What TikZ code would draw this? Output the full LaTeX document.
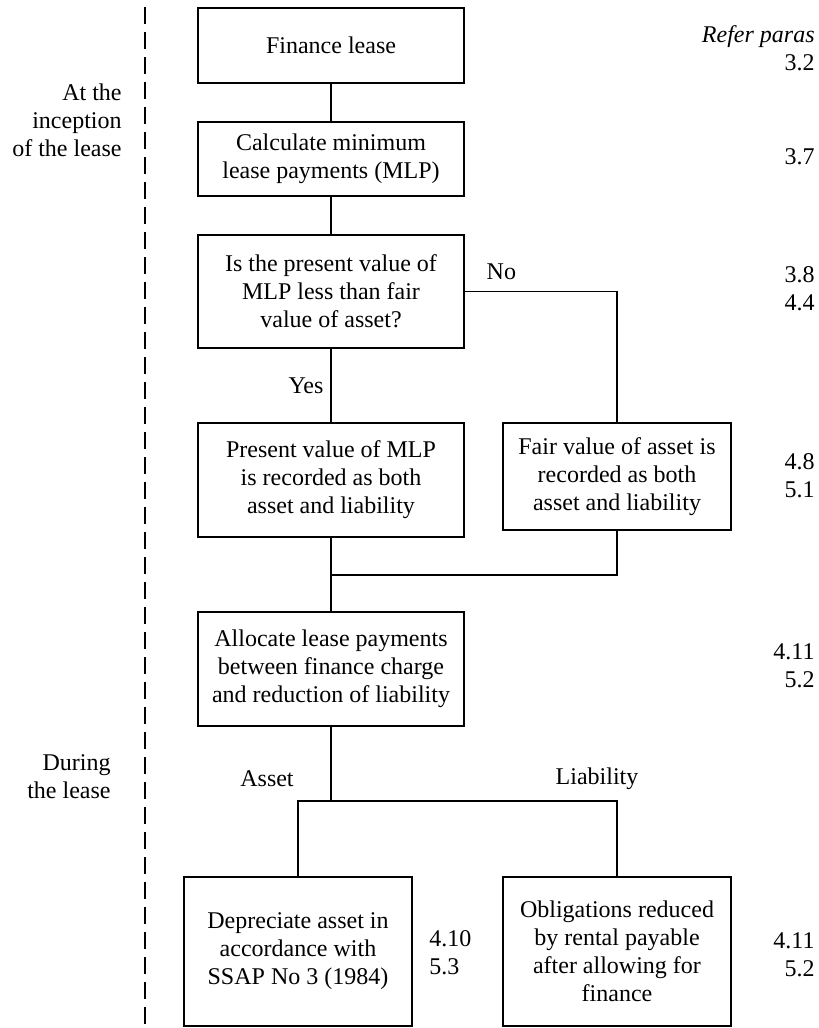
\documentclass[tikz,border=0pt]{standalone}
\usepackage{fontspec}
\setmainfont{Liberation Serif}
\usetikzlibrary{positioning,calc}

\begin{document}
\begin{tikzpicture}[x=0.5pt,y=-0.5pt,
	font=\fontsize{12}{14}\selectfont,
	mybox/.style={draw,line width=0.9pt,align=center,inner sep=0pt,minimum width=133pt},
	smallbox/.style={mybox,minimum width=114pt},
	myline/.style={line width=0.9pt},
	refnum/.style={anchor=east,align=right,inner sep=0pt},
	sidelabel/.style={anchor=east,align=right,inner sep=0pt}]
	\clip (0,0) rectangle (819,1028);
	\draw
		(331,45.5) node[mybox,minimum height=37.5pt](lease){Finance lease}
		(331,159) node[mybox,minimum height=37pt](mlp){Calculate minimum\\lease payments (MLP)}
		(331,291.5) node[mybox,minimum height=56.5pt](pvq){Is the present value of\\MLP less than fair\\value of asset?}
		(331,480) node[mybox,minimum height=57pt](pvrec){Present value of MLP\\is recorded as both\\asset and liability}
		(617,476.5) node[smallbox,minimum height=53.5pt](fair){Fair value of asset is\\recorded as both\\asset and liability}
		(331,669) node[mybox,minimum height=57pt](alloc){Allocate lease payments\\between finance charge\\and reduction of liability}
		(298,951.5) node[smallbox,minimum height=74.5pt](dep){Depreciate asset in\\accordance with\\SSAP No 3 (1984)}
		(617,951.5) node[smallbox,minimum height=74.5pt](oblig){Obligations reduced\\by rental payable\\after allowing for\\finance};
	\coordinate (join) at (331,575);
	\coordinate (split) at (331,801);
	\draw[myline](lease)--(mlp);
	\draw[myline](mlp)--(pvq);
	\draw[myline](pvq.south)--node[midway,left]{Yes}(pvrec.north);
	\draw[myline](pvq.east)-|node[pos=0.12,above=2pt]{No}(fair.north);
	\draw[myline](pvrec.south)--(alloc.north);
	\draw[myline](fair.south)|-(join);
	\draw[myline](alloc.south)--(split);
	\draw[myline](dep.north)|-(split)-|(oblig.north);
	\draw
		(267,779) node(asset){Asset}
		(597,779) node(liab){Liability};
	% time line on the left
	\coordinate (divtop) at (145,7);
	\coordinate (divbot) at (145,1028);
	\draw[line width=1pt,dash pattern=on 8.5pt off 4pt](divtop)--(divbot);
	\draw
		(122,120.5) node[sidelabel](incept){At the\\inception\\of the lease}
		(111,777) node[sidelabel](during){During\\the lease};
	% paragraph references
	\draw
		(815,48.5) node[refnum](ref1){\textit{Refer paras}\\3.2}
		(815,157) node[refnum](ref2){3.7}
		(815,288.5) node[refnum](ref3){3.8\\4.4}
		(815,476) node[refnum](ref4){4.8\\5.1}
		(815,666) node[refnum](ref5){4.11\\5.2}
		(815,955) node[refnum](ref6){4.11\\5.2}
		(429,953) node[anchor=west,align=left,inner sep=0pt](ref7){4.10\\5.3};
\end{tikzpicture}
\end{document}
